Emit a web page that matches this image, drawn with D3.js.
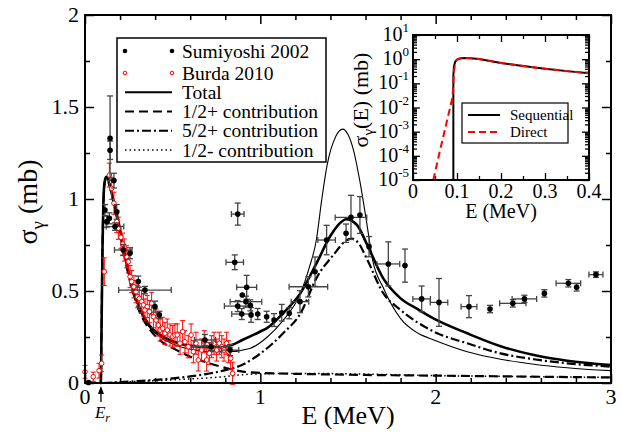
<!DOCTYPE html>
<html>
<head>
<meta charset="utf-8">
<script src="https://cdn.jsdelivr.net/npm/d3@7"></script>
<style>
  html, body { margin: 0; padding: 0; background: #fff; }
  svg { display: block; }
  svg text { font-family: "Liberation Serif", "Times New Roman", Times, serif; }
</style>
</head>
<body>
<svg id="chart" width="622" height="432" font-family="Liberation Serif, Times New Roman, serif"></svg>
<script>
// ---- Sumiyoshi 2002 (energy, cross section, dy, dx) ----
const sumE  = [0.02, 0.114, 0.124, 0.139, 0.143, 0.143, 0.165, 0.181, 0.171, 0.218, 0.257, 0.304, 0.342, 0.399, 0.424,
               0.684, 0.719, 0.827, 0.854, 0.871, 0.922, 0.897, 0.918, 0.871, 0.943, 0.894, 0.947, 0.985, 1.036, 1.078,
               1.122, 1.165, 1.226, 1.274, 1.312, 1.378, 1.489, 1.517, 1.568, 1.62, 1.73, 1.825, 1.92, 2.019, 2.19,
               2.31, 2.44, 2.506, 2.62, 2.757, 2.804, 2.914];
const sumS  = [0.003, 0.94, 0.877, 0.895, 1.33, 1.265, 1.10, 0.93, 0.85, 0.723, 0.705, 0.551, 0.505, 0.415, 0.37,
               0.234, 0.197, 0.179, 0.656, 0.918, 0.52, 0.478, 0.442, 0.418, 0.422, 0.375, 0.37, 0.375, 0.36, 0.342,
               0.382, 0.379, 0.442, 0.523, 0.605, 0.777, 0.814, 0.90, 0.913, 0.741, 0.647, 0.638, 0.457, 0.438, 0.415,
               0.402, 0.433, 0.457, 0.487, 0.542, 0.52, 0.589];
const sumDy = [0, 0.03, 0.03, 0.03, 0.23, 0.05, 0.04, 0.04, 0.02, 0.03, 0.03, 0.03, 0.02, 0.03, 0.02,
               0.03, 0.02, 0.03, 0.04, 0.06, 0.065, 0, 0.03, 0.03, 0.03, 0.03, 0.04, 0.03, 0.03, 0.035,
               0.045, 0.03, 0.06, 0.055, 0.08, 0.08, 0.05, 0.12, 0.10, 0.055, 0.12, 0.09, 0.07, 0.13, 0.06,
               0.02, 0.02, 0.02, 0.02, 0.02, 0.02, 0.015];
const sumDx = [0, 0, 0, 0, 0, 0, 0, 0, 0.05, 0.05, 0, 0, 0.15, 0, 0,
               0.06, 0.11, 0.05, 0.05, 0.036, 0.057, 0, 0.09, 0.076, 0, 0.057, 0, 0, 0, 0,
               0, 0, 0.05, 0.11, 0, 0.05, 0, 0.09, 0, 0, 0.065, 0, 0.05, 0.05, 0.045,
               0, 0.075, 0.07, 0, 0.07, 0, 0.04];

// ---- Burda 2010 (energy, cross section, dy) ----
const burE = [0.0, 0.047, 0.080, 0.095, 0.110, 0.139, 0.152, 0.165, 0.181, 0.190, 0.205, 0.215, 0.224, 0.238, 0.247,
              0.257, 0.266, 0.279, 0.291, 0.300, 0.310, 0.323, 0.333, 0.342, 0.355, 0.367, 0.380, 0.390, 0.405, 0.418,
              0.428, 0.443, 0.456, 0.469, 0.485, 0.500, 0.513, 0.526, 0.542, 0.557, 0.570, 0.589, 0.605, 0.618, 0.633,
              0.646, 0.665, 0.680, 0.694, 0.709, 0.722, 0.736, 0.751, 0.766, 0.780, 0.793, 0.808, 0.818, 0.831, 0.842];
const burS = [0.061, 0.034, 0.067, 0.107, 0.605, 1.13, 1.058, 0.977, 0.877, 0.841, 0.792, 0.755, 0.723, 0.686, 0.659,
              0.578, 0.551, 0.523, 0.496, 0.469, 0.46, 0.442, 0.424, 0.397, 0.415, 0.388, 0.433, 0.36, 0.342, 0.315,
              0.288, 0.297, 0.27, 0.288, 0.261, 0.252, 0.261, 0.261, 0.216, 0.279, 0.224, 0.197, 0.261, 0.17, 0.216,
              0.125, 0.179, 0.224, 0.125, 0.161, 0.197, 0.216, 0.179, 0.216, 0.197, 0.179, 0.216, 0.17, 0.134, 0.053];
const burDy = [0.035, 0.025, 0.04, 0.045, 0.075, 0.065, 0.06, 0.06, 0.06, 0.06, 0.06, 0.06, 0.06, 0.06, 0.06,
               0.06, 0.06, 0.06, 0.06, 0.06, 0.06, 0.06, 0.06, 0.06, 0.06, 0.06, 0.06, 0.06, 0.06, 0.06,
               0.06, 0.06, 0.06, 0.06, 0.06, 0.06, 0.06, 0.06, 0.06, 0.06, 0.06, 0.06, 0.06, 0.06, 0.06,
               0.06, 0.06, 0.06, 0.06, 0.06, 0.06, 0.06, 0.06, 0.06, 0.06, 0.06, 0.06, 0.06, 0.06, 0.06];

// ---- Model curves ----
const totalE = [0.085, 0.09, 0.095, 0.10, 0.105, 0.11, 0.12, 0.13, 0.14, 0.16, 0.19, 0.22, 0.26, 0.31, 0.37, 0.43, 0.52,
                0.62, 0.71, 0.81, 0.90, 1.0, 1.04, 1.13, 1.23, 1.32, 1.40, 1.45, 1.49, 1.55, 1.61, 1.70, 1.80, 1.90,
                1.99, 2.18, 2.37, 2.56, 2.75, 3.0];
const totalS = [0, 0.0, 0.35, 0.75, 0.98, 1.08, 1.12, 1.11, 1.08, 1.0, 0.88, 0.73, 0.56, 0.41, 0.31, 0.26, 0.22,
                0.20, 0.195, 0.20, 0.235, 0.28, 0.30, 0.38, 0.49, 0.65, 0.80, 0.865, 0.89, 0.86, 0.75, 0.57, 0.46, 0.40,
                0.35, 0.27, 0.20, 0.152, 0.121, 0.098];
const thinE = [0.085, 0.09, 0.095, 0.10, 0.105, 0.11, 0.12, 0.13, 0.14, 0.16, 0.19, 0.22, 0.26, 0.31, 0.37, 0.43, 0.52,
               0.62, 0.71, 0.81, 0.94, 1.04, 1.13, 1.23, 1.28, 1.32, 1.35, 1.38, 1.43, 1.47, 1.50, 1.53, 1.57, 1.61,
               1.64, 1.70, 1.80, 1.90, 1.99, 2.18, 2.37, 2.56, 2.75, 3.0];
const thinS = [0, 0.0, 0.35, 0.75, 0.98, 1.08, 1.12, 1.11, 1.08, 1.0, 0.88, 0.72, 0.55, 0.40, 0.30, 0.25, 0.205,
               0.18, 0.17, 0.17, 0.188, 0.25, 0.34, 0.49, 0.63, 0.78, 0.995, 1.18, 1.34, 1.38, 1.35, 1.27, 1.085, 0.85,
               0.67, 0.52, 0.35, 0.27, 0.234, 0.17, 0.129, 0.102, 0.083, 0.067];
const halfPlusE = [0.085, 0.09, 0.095, 0.10, 0.105, 0.11, 0.12, 0.13, 0.16, 0.19, 0.22, 0.26, 0.31, 0.37, 0.43, 0.52,
                   0.62, 0.71, 0.81, 0.90, 1.0, 1.2, 1.5, 2.0, 2.5, 3.0];
const halfPlusS = [0, 0.0, 0.35, 0.75, 0.97, 1.07, 1.11, 1.10, 0.99, 0.86, 0.71, 0.54, 0.39, 0.29, 0.23, 0.18,
                   0.135, 0.107, 0.08, 0.062, 0.055, 0.05, 0.045, 0.04, 0.035, 0.03];
const fivePlusE = [0.1, 0.3, 0.5, 0.7, 0.8, 0.9, 1.0, 1.13, 1.23, 1.32, 1.42, 1.49, 1.52, 1.56, 1.61, 1.70, 1.80,
                   1.99, 2.18, 2.37, 2.56, 2.75, 3.0];
const fivePlusS = [0.0, 0.01, 0.025, 0.05, 0.07, 0.10, 0.16, 0.27, 0.38, 0.57, 0.70, 0.775, 0.785, 0.76, 0.67, 0.49, 0.397,
                   0.279, 0.216, 0.161, 0.129, 0.107, 0.089];
const halfMinusE = [0.1, 0.2, 0.4, 0.6, 0.8, 0.9, 1.0, 1.2, 1.5, 2.0, 2.5, 3.0];
const halfMinusS = [0.0, 0.005, 0.012, 0.022, 0.035, 0.045, 0.05, 0.052, 0.05, 0.04, 0.035, 0.03];

// ---- Inset: sequential vs direct (log scale) ----
const seqE = [0.0917, 0.0917, 0.093, 0.096, 0.10, 0.105, 0.11, 0.12, 0.13, 0.15, 0.20, 0.25, 0.30, 0.35, 0.40];
const seqS = [1e-5, 0.2, 0.5, 0.8, 0.95, 1.04, 1.09, 1.12, 1.1, 1.02, 0.7, 0.52, 0.40, 0.32, 0.26];
const dirE = [0.046, 0.05, 0.06, 0.07, 0.08, 0.09, 0.093, 0.096, 0.10, 0.105, 0.11, 0.12, 0.13, 0.15, 0.20, 0.25, 0.30, 0.35, 0.40];
const dirS = [1e-5, 2e-5, 1.3e-4, 7.6e-4, 4.6e-3, 0.028, 0.3, 0.75, 0.95, 1.04, 1.09, 1.12, 1.1, 1.02, 0.7, 0.52, 0.40, 0.32, 0.26];

const xTicks = [0, 1, 2, 3];
const yTicks = [0, 0.5, 1, 1.5, 2];
const yTickLabels = ["0", "0.5", "1", "1.5", "2"];
const insetXTicks = [0, 0.1, 0.2, 0.3, 0.4];
const insetXTickLabels = ["0", "0.1", "0.2", "0.3", "0.4"];
const insetYExps = [1, 0, -1, -2, -3, -4, -5];

const legendLabels = ["Sumiyoshi 2002", "Burda 2010", "Total", "1/2+ contribution", "5/2+ contribution", "1/2- contribution"];

// ---------------------------------------------------------------
const FONT = "'Liberation Serif', 'Times New Roman', Times, serif";
const svg = d3.select("#chart");
const root = svg.append("g").attr("font-family", FONT);
const L = 85, R = 611, T = 15, B = 383;
const x = d3.scaleLinear().domain([0, 3]).range([L, R]);
const y = d3.scaleLinear().domain([0, 2]).range([B, T]);

const zip = (a, b) => a.map((v, i) => [v, b[i]]);
const line = d3.line().x(d => x(d[0])).y(d => y(d[1])).curve(d3.curveMonotoneX);

// Styles for each curve
const styles = {
  total:     { w: 2.6, dash: null },
  thin:      { w: 1.1, dash: null },
  halfPlus:  { w: 2.2, dash: "9,5" },
  fivePlus:  { w: 2.2, dash: "9,3,2,3" },
  halfMinus: { w: 1.5, dash: "1.5,3" }
};

// ---- Main frame & ticks ----
const gAx = root.append("g");
function ticksAxis(axisFn, scale, transform, values, size) {
  gAx.append("g").attr("transform", transform)
    .call(axisFn(scale).tickValues(values).tickSize(size).tickFormat(""))
    .call(g => g.select(".domain").remove())
    .call(g => g.selectAll("line").attr("stroke", "#000").attr("stroke-width", 1.5));
}
const xMajor = d3.range(0, 3.001, 1), xMinor = d3.range(0, 3.001, 0.2).filter(v => Math.abs(v - Math.round(v)) > 1e-6);
const yMajor = d3.range(0, 2.001, 0.5), yMinor = d3.range(0.25, 2, 0.5);
ticksAxis(d3.axisBottom, x, `translate(0,${B})`, xMajor, -9);
ticksAxis(d3.axisBottom, x, `translate(0,${B})`, xMinor, -5);
ticksAxis(d3.axisTop, x, `translate(0,${T})`, xMajor, -9);
ticksAxis(d3.axisTop, x, `translate(0,${T})`, xMinor, -5);
ticksAxis(d3.axisLeft, y, `translate(${L},0)`, yMajor, -9);
ticksAxis(d3.axisLeft, y, `translate(${L},0)`, yMinor, -5);
ticksAxis(d3.axisRight, y, `translate(${R},0)`, yMajor, -9);
ticksAxis(d3.axisRight, y, `translate(${R},0)`, yMinor, -5);

// Tick labels
root.append("g").selectAll("text").data(xTicks).join("text")
  .attr("x", d => x(d)).attr("y", B + 21)
  .attr("text-anchor", "middle").attr("font-size", 22).text(d => d);
root.append("g").selectAll("text").data(yTicks).join("text")
  .attr("x", L - 6).attr("y", d => y(d) + 7)
  .attr("text-anchor", "end").attr("font-size", 22).text((d, i) => yTickLabels[i]);

// Axis titles
root.append("text").attr("x", 348).attr("y", 424).attr("text-anchor", "middle")
  .attr("font-size", 26).text("E (MeV)");
const yt = root.append("text").attr("transform", "translate(37,202) rotate(-90)")
  .attr("text-anchor", "middle").attr("font-size", 28);
yt.append("tspan").text("σ");
yt.append("tspan").attr("font-size", 19).attr("dy", 7).text("γ");
yt.append("tspan").attr("dy", -7).text(" (mb)");

// ---- Curves ----
const curves = [
  [halfMinusE, halfMinusS, styles.halfMinus],
  [halfPlusE, halfPlusS, styles.halfPlus],
  [fivePlusE, fivePlusS, styles.fivePlus],
  [thinE, thinS, styles.thin],
  [totalE, totalS, styles.total]
];
const gC = root.append("g");
curves.forEach(([e, s, st]) => {
  gC.append("path").datum(zip(e, s)).attr("d", line)
    .attr("fill", "none").attr("stroke", "#000").attr("stroke-width", st.w)
    .attr("stroke-dasharray", st.dash);
});

// ---- Burda 2010 ----
const gB = root.append("g");
burE.forEach((e, i) => {
  const cx = x(e), y0 = y(burS[i] - burDy[i]), y1 = y(burS[i] + burDy[i]);
  gB.append("line").attr("x1", cx).attr("x2", cx).attr("y1", y0).attr("y2", y1)
    .attr("stroke", "#ff0000").attr("stroke-width", 1);
  [y0, y1].forEach(yy => gB.append("line").attr("x1", cx - 2.5).attr("x2", cx + 2.5)
    .attr("y1", yy).attr("y2", yy).attr("stroke", "#ff0000").attr("stroke-width", 1));
});
gB.selectAll("circle").data(burE).join("circle")
  .attr("cx", d => x(d)).attr("cy", (d, i) => y(burS[i])).attr("r", 2.3)
  .attr("fill", "#fff").attr("stroke", "#ff0000").attr("stroke-width", 1);

// ---- Sumiyoshi 2002 ----
const gS = root.append("g");
const errCol = "#444";
sumE.forEach((e, i) => {
  const cx = x(e), cy = y(sumS[i]);
  if (sumDy[i] > 0) {
    const y0 = y(sumS[i] - sumDy[i]), y1 = y(sumS[i] + sumDy[i]);
    gS.append("line").attr("x1", cx).attr("x2", cx).attr("y1", y0).attr("y2", y1).attr("stroke", errCol).attr("stroke-width", 1.3);
    [y0, y1].forEach(yy => gS.append("line").attr("x1", cx - 3).attr("x2", cx + 3)
      .attr("y1", yy).attr("y2", yy).attr("stroke", errCol).attr("stroke-width", 1.3));
  }
  if (sumDx[i] > 0) {
    const x0 = x(e - sumDx[i]), x1 = x(e + sumDx[i]);
    gS.append("line").attr("x1", x0).attr("x2", x1).attr("y1", cy).attr("y2", cy).attr("stroke", errCol).attr("stroke-width", 1.3);
    [x0, x1].forEach(xx => gS.append("line").attr("x1", xx).attr("x2", xx)
      .attr("y1", cy - 3).attr("y2", cy + 3).attr("stroke", errCol).attr("stroke-width", 1.3));
  }
});
gS.selectAll("circle").data(sumE).join("circle")
  .attr("cx", d => x(d)).attr("cy", (d, i) => y(sumS[i])).attr("r", 2.8).attr("fill", "#000");

// Frame on top
root.append("rect").attr("x", L).attr("y", T).attr("width", R - L).attr("height", B - T)
  .attr("fill", "none").attr("stroke", "#000").attr("stroke-width", 2);

// ---- Resonance marker ----
const er = 0.091;
root.append("line").attr("x1", x(er)).attr("x2", x(er)).attr("y1", 402).attr("y2", 390)
  .attr("stroke", "#000").attr("stroke-width", 1.3);
root.append("path").attr("d", `M${x(er)},386 L${x(er) - 3},394 L${x(er) + 3},394 Z`).attr("fill", "#000");
const erT = root.append("text").attr("x", x(er) - 6).attr("y", 418).attr("font-size", 17).attr("font-style", "italic");
erT.append("tspan").text("E");
erT.append("tspan").attr("font-size", 12).attr("dy", 4).text("r");

// ---- Legend ----
const lg = root.append("g");
lg.append("rect").attr("x", 117).attr("y", 38).attr("width", 209).attr("height", 124)
  .attr("fill", "#fff").attr("stroke", "#000").attr("stroke-width", 1.5);
const rowY = [51, 73, 92.3, 111.6, 130.8, 150];
const lgStyles = [null, null, { w: 2, dash: null }, { w: 2, dash: "9,5" }, { w: 2, dash: "9,3,2,3" }, { w: 1.5, dash: "1.5,3" }];
legendLabels.forEach((lab, i) => {
  const yy = rowY[i];
  if (i === 0) {
    [125, 172].forEach(cx => lg.append("circle").attr("cx", cx).attr("cy", yy).attr("r", 2.3).attr("fill", "#000"));
  } else if (i === 1) {
    [125, 172].forEach(cx => lg.append("circle").attr("cx", cx).attr("cy", yy).attr("r", 1.8)
      .attr("fill", "#fff").attr("stroke", "#ff0000").attr("stroke-width", 1));
  } else {
    lg.append("line").attr("x1", 125).attr("x2", 172).attr("y1", yy).attr("y2", yy)
      .attr("stroke", "#000").attr("stroke-width", lgStyles[i].w).attr("stroke-dasharray", lgStyles[i].dash);
  }
  lg.append("text").attr("x", 182).attr("y", yy + 6.5).attr("font-size", 19.5).text(lab);
});

// ---- Inset ----
const iL = 413, iR = 589, iT = 35, iB = 180;
const ix = d3.scaleLinear().domain([0, 0.4]).range([iL, iR]);
const iy = d3.scaleLog().domain([1e-5, 10]).range([iB, iT]);
const gi = root.append("g");
gi.append("rect").attr("x", iL).attr("y", iT).attr("width", iR - iL).attr("height", iB - iT).attr("fill", "#fff");

function iTicks(axisFn, scale, transform, values, size) {
  gi.append("g").attr("transform", transform)
    .call(axisFn(scale).tickValues(values).tickSize(size).tickFormat(""))
    .call(g => g.select(".domain").remove())
    .call(g => g.selectAll("line").attr("stroke", "#000").attr("stroke-width", 1.3));
}
const ixMajor = d3.range(0, 0.4001, 0.1), ixMinor = d3.range(0.05, 0.4, 0.1);
const iyMajor = insetYExps.map(p => Math.pow(10, p));
const iyMinor = [];
for (let p = -5; p < 1; p++) for (let k = 2; k <= 9; k++) iyMinor.push(k * Math.pow(10, p));
iTicks(d3.axisBottom, ix, `translate(0,${iB})`, ixMajor, -7);
iTicks(d3.axisBottom, ix, `translate(0,${iB})`, ixMinor, -4);
iTicks(d3.axisTop, ix, `translate(0,${iT})`, ixMajor, -7);
iTicks(d3.axisTop, ix, `translate(0,${iT})`, ixMinor, -4);
iTicks(d3.axisLeft, iy, `translate(${iL},0)`, iyMajor, -7);
iTicks(d3.axisLeft, iy, `translate(${iL},0)`, iyMinor, -4);
iTicks(d3.axisRight, iy, `translate(${iR},0)`, iyMajor, -7);
iTicks(d3.axisRight, iy, `translate(${iR},0)`, iyMinor, -4);

const iline = d3.line().x(d => ix(d[0])).y(d => iy(d[1]));
gi.append("path").datum(zip(seqE, seqS)).attr("d", iline)
  .attr("fill", "none").attr("stroke", "#000").attr("stroke-width", 2);
gi.append("path").datum(zip(dirE, dirS)).attr("d", iline)
  .attr("fill", "none").attr("stroke", "#ff0000").attr("stroke-width", 2).attr("stroke-dasharray", "7,4");
gi.append("rect").attr("x", iL).attr("y", iT).attr("width", iR - iL).attr("height", iB - iT)
  .attr("fill", "none").attr("stroke", "#000").attr("stroke-width", 2);

// Inset tick labels
gi.selectAll(".ixl").data(insetXTicks).join("text")
  .attr("x", d => ix(d)).attr("y", iB + 18).attr("text-anchor", "middle").attr("font-size", 20)
  .text((d, i) => insetXTickLabels[i]);
insetYExps.forEach(p => {
  const t = gi.append("text").attr("x", 409).attr("y", iy(Math.pow(10, p)) + 6)
    .attr("text-anchor", "end").attr("font-size", 20);
  t.append("tspan").text("10");
  t.append("tspan").attr("font-size", 13).attr("dy", -9).text(p);
});
gi.append("text").attr("x", ix(0.2)).attr("y", 218).attr("text-anchor", "middle").attr("font-size", 20).text("E (MeV)");
const iyt = gi.append("text").attr("transform", "translate(368,100) rotate(-90)").attr("text-anchor", "middle").attr("font-size", 22);
iyt.append("tspan").text("σ");
iyt.append("tspan").attr("font-size", 15).attr("dy", 5).text("γ");
iyt.append("tspan").attr("dy", -5).text("(E) (mb)");

// Inset legend
gi.append("rect").attr("x", 462).attr("y", 103).attr("width", 106).attr("height", 40)
  .attr("fill", "#fff").attr("stroke", "#000").attr("stroke-width", 1.2);
gi.append("line").attr("x1", 468).attr("x2", 500).attr("y1", 115).attr("y2", 115).attr("stroke", "#000").attr("stroke-width", 2);
gi.append("line").attr("x1", 468).attr("x2", 500).attr("y1", 132).attr("y2", 132)
  .attr("stroke", "#ff0000").attr("stroke-width", 2).attr("stroke-dasharray", "7,4");
gi.append("text").attr("x", 510).attr("y", 120).attr("font-size", 15).text("Sequential");
gi.append("text").attr("x", 510).attr("y", 137).attr("font-size", 15).text("Direct");
</script>
</body>
</html>
